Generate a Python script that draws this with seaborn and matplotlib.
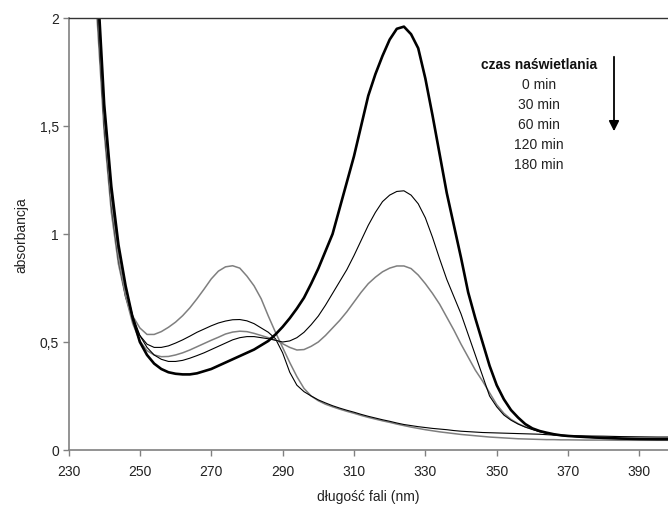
import matplotlib
matplotlib.use("Agg")
import matplotlib.pyplot as plt
import pandas as pd
import seaborn as sns

# długości fal (nm) – wspólne dla wszystkich widm
wavelength = [236, 238, 240, 242, 244, 246, 248, 250, 252, 254, 256, 258, 260, 262, 264, 266,
              268, 270, 272, 274, 276, 278, 280, 282, 284, 286, 288, 290, 292, 294, 296, 298,
              300, 302, 304, 306, 308, 310, 312, 314, 316, 318, 320, 322, 324, 326, 328, 330,
              332, 334, 336, 338, 340, 342, 344, 346, 348, 350, 352, 354, 356, 358, 360, 362,
              364, 366, 368, 370, 375, 380, 385, 390, 395, 398]

abs_0 = [3.0, 2.2, 1.6, 1.22, 0.95, 0.76, 0.61, 0.50, 0.44, 0.40, 0.375, 0.36, 0.353, 0.35, 0.35, 0.355,
         0.365, 0.375, 0.39, 0.405, 0.42, 0.435, 0.45, 0.465, 0.485, 0.505, 0.535, 0.57, 0.61, 0.655, 0.705, 0.77,
         0.84, 0.92, 1.0, 1.12, 1.24, 1.36, 1.50, 1.64, 1.74, 1.825, 1.90, 1.95, 1.96, 1.925, 1.86, 1.72,
         1.55, 1.37, 1.19, 1.04, 0.89, 0.73, 0.61, 0.50, 0.39, 0.30, 0.235, 0.185, 0.15, 0.12, 0.10, 0.088,
         0.08, 0.073, 0.068, 0.065, 0.06, 0.056, 0.053, 0.051, 0.05, 0.05]

abs_30 = [2.9, 2.15, 1.57, 1.19, 0.93, 0.75, 0.62, 0.53, 0.475, 0.44, 0.42, 0.41, 0.41, 0.415, 0.425, 0.437,
          0.45, 0.465, 0.48, 0.495, 0.51, 0.52, 0.525, 0.525, 0.52, 0.515, 0.508, 0.50, 0.505, 0.52, 0.545, 0.58,
          0.62, 0.67, 0.725, 0.78, 0.835, 0.90, 0.97, 1.04, 1.10, 1.15, 1.18, 1.197, 1.20, 1.18, 1.14, 1.075,
          0.985, 0.885, 0.79, 0.71, 0.63, 0.535, 0.44, 0.345, 0.25, 0.2, 0.162, 0.138, 0.12, 0.106, 0.095, 0.085,
          0.077, 0.071, 0.067, 0.064, 0.059, 0.055, 0.053, 0.051, 0.05, 0.05]

abs_60 = [2.85, 2.1, 1.53, 1.15, 0.89, 0.71, 0.585, 0.505, 0.46, 0.44, 0.432, 0.433, 0.44, 0.45, 0.463, 0.478,
          0.493, 0.508, 0.522, 0.537, 0.546, 0.55, 0.548, 0.54, 0.53, 0.52, 0.51, 0.492, 0.475, 0.463, 0.465, 0.48,
          0.50, 0.53, 0.565, 0.60, 0.64, 0.685, 0.73, 0.77, 0.80, 0.825, 0.842, 0.852, 0.852, 0.84, 0.81, 0.77,
          0.725, 0.675, 0.615, 0.555, 0.49, 0.43, 0.37, 0.32, 0.265, 0.21, 0.17, 0.142, 0.122, 0.107, 0.096, 0.086,
          0.078, 0.072, 0.068, 0.065, 0.06, 0.056, 0.053, 0.051, 0.05, 0.05]

abs_120 = [2.8, 2.05, 1.5, 1.13, 0.88, 0.71, 0.6, 0.53, 0.49, 0.475, 0.475, 0.482, 0.495, 0.51, 0.527, 0.545,
           0.56, 0.575, 0.588, 0.597, 0.603, 0.604, 0.598, 0.585, 0.565, 0.545, 0.515, 0.45, 0.36, 0.30, 0.27, 0.25,
           0.232, 0.218, 0.205, 0.194, 0.184, 0.175, 0.165, 0.156, 0.148, 0.14, 0.133, 0.125, 0.118, 0.113, 0.108, 0.104,
           0.1, 0.097, 0.094, 0.09, 0.087, 0.085, 0.083, 0.081, 0.08, 0.079, 0.078, 0.077, 0.076, 0.075, 0.074, 0.073,
           0.071, 0.069, 0.068, 0.067, 0.065, 0.064, 0.062, 0.061, 0.06, 0.06]

abs_180 = [2.75, 2.0, 1.47, 1.1, 0.86, 0.71, 0.62, 0.565, 0.535, 0.535, 0.548, 0.568, 0.592, 0.622, 0.658, 0.70,
           0.745, 0.792, 0.828, 0.848, 0.853, 0.842, 0.805, 0.76, 0.70, 0.62, 0.545, 0.475, 0.405, 0.34, 0.285, 0.25,
           0.228, 0.212, 0.2, 0.189, 0.179, 0.17, 0.16, 0.151, 0.143, 0.135, 0.128, 0.12, 0.113, 0.106, 0.1, 0.094,
           0.089, 0.084, 0.08, 0.076, 0.072, 0.069, 0.066, 0.063, 0.06, 0.058, 0.056, 0.054, 0.052, 0.051, 0.05, 0.049,
           0.048, 0.048, 0.047, 0.047, 0.046, 0.046, 0.045, 0.045, 0.045, 0.045]

series_labels = ["0 min", "30 min", "60 min", "120 min", "180 min"]
series_values = [abs_0, abs_30, abs_60, abs_120, abs_180]
series_colors = ["#000000", "#000000", "#7f7f7f", "#000000", "#7f7f7f"]
series_widths = [1.9, 0.8, 1.1, 0.8, 1.1]

x_ticks = [230, 250, 270, 290, 310, 330, 350, 370, 390]
y_ticks = [0, 0.5, 1, 1.5, 2]
y_tick_labels = ["0", "0,5", "1", "1,5", "2"]

sns.set_theme(style="white")
plt.rcParams["font.family"] = ["Liberation Sans", "DejaVu Sans"]

W, H = 668, 510
fig = plt.figure(figsize=(W / 100, H / 100), dpi=100)
ax = fig.add_axes([68.5 / W, (H - 451) / H, (W - 68.5) / W, (451 - 19) / H])

# od najdłuższego naświetlania, żeby gruba linia 0 min była na wierzchu
for label, values, color, lw in reversed(list(zip(series_labels, series_values, series_colors, series_widths))):
    df = pd.DataFrame({"wavelength": wavelength, "absorbance": values})
    sns.lineplot(data=df, x="wavelength", y="absorbance", color=color, linewidth=lw, ax=ax)

ax.set_xlim(230, 398)
ax.set_ylim(0, 2)
ax.set_xticks(x_ticks)
ax.set_xticklabels([str(t) for t in x_ticks])
ax.set_yticks(y_ticks)
ax.set_yticklabels(y_tick_labels)
ax.set_xlabel("długość fali (nm)", fontsize=10, color="#222222", labelpad=8)
ax.set_ylabel("absorbancja", fontsize=10, color="#222222", labelpad=8)
ax.tick_params(axis="both", which="major", direction="out", length=4, width=1,
               color="#808080", labelsize=10, labelcolor="#222222", pad=3)
ax.tick_params(axis="x", pad=6)
ax.tick_params(left=True, bottom=True)

for side in ["left", "bottom"]:
    ax.spines[side].set_color("#808080")
    ax.spines[side].set_linewidth(1.2)
ax.spines["top"].set_color("#333333")
ax.spines["top"].set_linewidth(1.0)
ax.spines["right"].set_visible(False)
ax.grid(False)

# opis legendy – tekst wycentrowany, strzałka w dół
cx = 539 / W
fig.text(cx, (H - 65) / H, "czas naświetlania", ha="center", va="center",
         fontsize=10, fontweight="bold", color="#111111")
for i, label in enumerate(series_labels):
    fig.text(cx, (H - 85 - 20 * i) / H, label, ha="center", va="center",
             fontsize=10, color="#222222")
ax.annotate("", xy=(614 / W, (H - 135) / H), xytext=(614 / W, (H - 55) / H),
            xycoords="figure fraction", textcoords="figure fraction",
            arrowprops=dict(arrowstyle="-|>", color="black", lw=1.3, mutation_scale=15))

fig.savefig("out.png", dpi=100)
plt.close(fig)
